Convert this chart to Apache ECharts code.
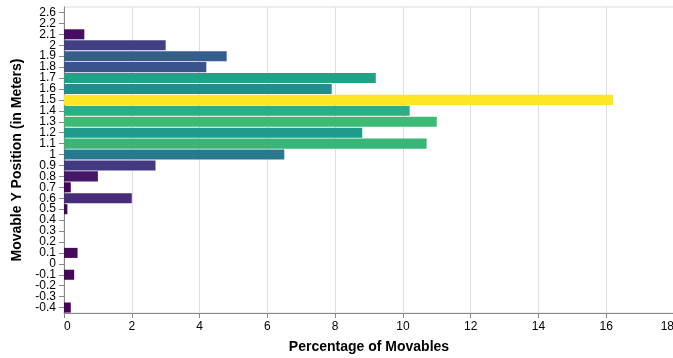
<!DOCTYPE html>
<html>
<head>
<meta charset="utf-8">
<script src="https://cdn.jsdelivr.net/npm/echarts@6/dist/echarts.min.js"></script>
<style>html,body{margin:0;padding:0;background:#fff}#c{width:673px;height:358px}</style>
</head>
<body>
<div id="c"></div>
<script>
// Categories (bottom to top)
const categories = ['-0.4','-0.3','-0.2','-0.1','0','0.1','0.2','0.3','0.4','0.5','0.6','0.7','0.8','0.9','1','1.1','1.2','1.3','1.4','1.5','1.6','1.7','1.8','1.9','2','2.1','2.2','2.6'];
// Percentage of movables per category (null = no bar)
const percentages = [0.2, null, null, 0.3, null, 0.4, null, null, null, 0.1, 2.0, 0.2, 1.0, 2.7, 6.5, 10.7, 8.8, 11.0, 10.2, 16.2, 7.9, 9.2, 4.2, 4.8, 3.0, 0.6, null, null];
const xTicks = [0, 2, 4, 6, 8, 10, 12, 14, 16, 18];

const viridis = ['#440154','#482475','#414487','#355f8d','#2a788e','#21918c','#22a884','#44bf70','#7ad151','#bddf26','#fde725'];
const maxVal = Math.max(...percentages.filter(v => v !== null));

const data = [];
categories.forEach((c, i) => {
  if (percentages[i] !== null) data.push([percentages[i], c]);
});

const chart = echarts.init(document.getElementById('c'), null, {renderer: 'canvas'});
chart.setOption({
  animation: false,
  backgroundColor: '#fff',
  textStyle: {fontFamily: 'Liberation Sans, Arial, sans-serif'},
  grid: {left: 64, top: 7, width: 610, height: 306, show: true, borderColor: '#ddd', borderWidth: 1,
         containLabel: false, outerBoundsMode: 'none'},
  visualMap: {show: false, type: 'continuous', dimension: 0, min: 0, max: maxVal, inRange: {color: viridis}},
  xAxis: {
    type: 'value', min: xTicks[0], max: xTicks[xTicks.length - 1], interval: 2,
    name: 'Percentage of Movables', nameLocation: 'middle', nameGap: 27,
    nameTextStyle: {fontSize: 14, fontWeight: 'bold', color: '#000'},
    axisLine: {show: true, lineStyle: {color: '#888'}},
    axisTick: {show: true, length: 5, lineStyle: {color: '#888'}},
    axisLabel: {fontSize: 12, color: '#000', margin: 8, alignMinLabel: 'left', alignMaxLabel: 'right'},
    splitLine: {show: true, lineStyle: {color: '#ddd'}}
  },
  yAxis: {
    type: 'category', data: categories,
    name: 'Movable Y Position (in Meters)', nameLocation: 'middle', nameGap: 38,
    nameTextStyle: {fontSize: 14, fontWeight: 'bold', color: '#000'},
    axisLine: {show: true, lineStyle: {color: '#888'}},
    axisTick: {show: true, length: 5, alignWithLabel: true, lineStyle: {color: '#888'}},
    axisLabel: {fontSize: 12, color: '#000', margin: 8, interval: 0},
    splitLine: {show: false}
  },
  series: [{
    type: 'bar', data: data, encode: {x: 0, y: 1},
    barCategoryGap: '8%'
  }]
});
</script>
</body>
</html>
